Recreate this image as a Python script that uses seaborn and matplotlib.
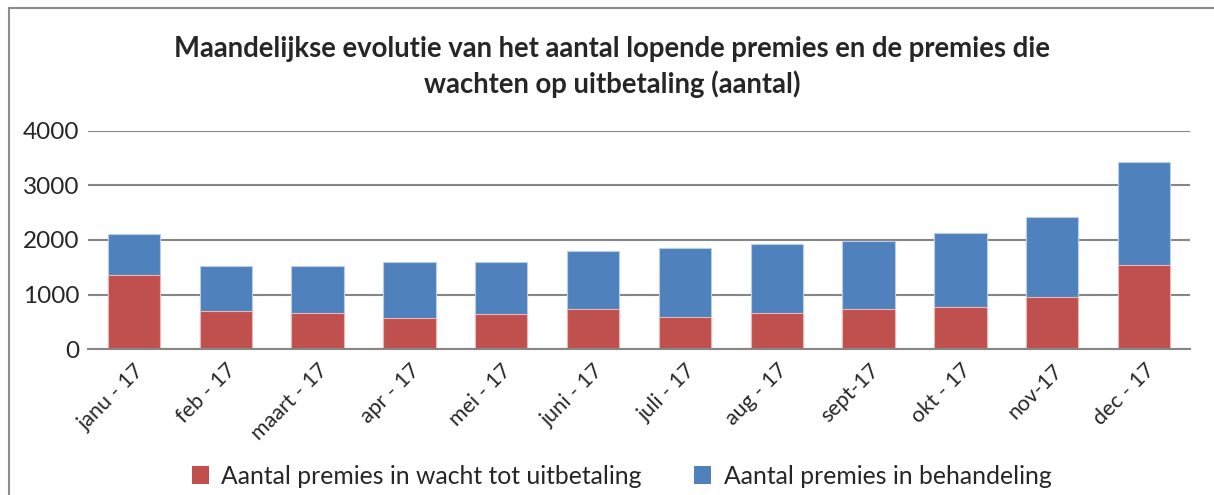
import pandas as pd
import matplotlib
matplotlib.use("Agg")
import matplotlib.pyplot as plt
from matplotlib.patches import Patch
from matplotlib.lines import Line2D
import seaborn as sns

# data
maanden = ["janu - 17", "feb - 17", "maart - 17", "apr - 17", "mei - 17", "juni - 17",
           "juli - 17", "aug - 17", "sept-17", "okt - 17", "nov-17", "dec - 17"]
in_wacht = [1360, 695, 655, 565, 650, 730, 585, 655, 740, 765, 950, 1545]
in_behandeling = [755, 825, 875, 1035, 950, 1070, 1270, 1275, 1250, 1365, 1465, 1880]

rood = "#C0504D"
blauw = "#4F81BD"
grijs = "#868686"

sns.set_style("white")
plt.rcParams["font.family"] = ["Lato", "DejaVu Sans"]

df = pd.DataFrame({"maand": maanden, "wacht": in_wacht, "behandeling": in_behandeling})
df["totaal"] = df["wacht"] + df["behandeling"]

fig = plt.figure(figsize=(12.14, 4.95), dpi=100)
ax = fig.add_axes([88 / 1214, 1 - 349 / 495, (1190 - 88) / 1214, 218 / 495])

# stacked bars: total in blue, red part drawn over it
sns.barplot(data=df, x="maand", y="totaal", color=blauw, width=0.57, saturation=1,
            edgecolor="#B9CDE5", linewidth=0.8, ax=ax)
sns.barplot(data=df, x="maand", y="wacht", color=rood, width=0.57, saturation=1,
            edgecolor="#E6B9B8", linewidth=0.8, ax=ax)

ax.set_ylim(0, 4000)
ax.set_xlim(-0.5, len(maanden) - 0.5)
ax.set_yticks([0, 1000, 2000, 3000, 4000])
ax.yaxis.grid(True, color=grijs, linewidth=1.5)
ax.set_axisbelow(True)
ax.set_xlabel("")
ax.set_ylabel("")
sns.despine(ax=ax, left=True, top=True, right=True)
ax.spines["bottom"].set_color(grijs)
ax.spines["bottom"].set_linewidth(1.5)
ax.tick_params(axis="y", labelsize=17.5, length=0, pad=6)
ax.tick_params(axis="x", labelsize=15.5, length=0, pad=8)
for lbl in ax.get_xticklabels():
    lbl.set_rotation(45)
    lbl.set_ha("right")
    lbl.set_rotation_mode("anchor")

fig.text(0.504, 1 - 49 / 495, "Maandelijkse evolutie van het aantal lopende premies en de premies die",
         ha="center", va="center", fontsize=19.8, fontweight="bold")
fig.text(0.504, 1 - 84 / 495, "wachten op uitbetaling (aantal)",
         ha="center", va="center", fontsize=19.8, fontweight="bold")

handles = [Patch(facecolor=rood, edgecolor="none"), Patch(facecolor=blauw, edgecolor="none")]
fig.legend(handles, ["Aantal premies in wacht tot uitbetaling", "Aantal premies in behandeling"],
           loc="center", bbox_to_anchor=(0.512, 1 - 476 / 495), ncol=2, frameon=False,
           fontsize=17.8, handlelength=0.7, handleheight=0.7, handletextpad=0.5, columnspacing=2.1)

# chart border (left and top)
fig.add_artist(Line2D([9 / 1214, 9 / 1214], [0, 1 - 8 / 495], color="#8C8C8C", linewidth=1.5,
                      transform=fig.transFigure))
fig.add_artist(Line2D([9 / 1214, 1], [1 - 8 / 495, 1 - 8 / 495], color="#8C8C8C", linewidth=1.5,
                      transform=fig.transFigure))

fig.savefig("out.png", dpi=100)
